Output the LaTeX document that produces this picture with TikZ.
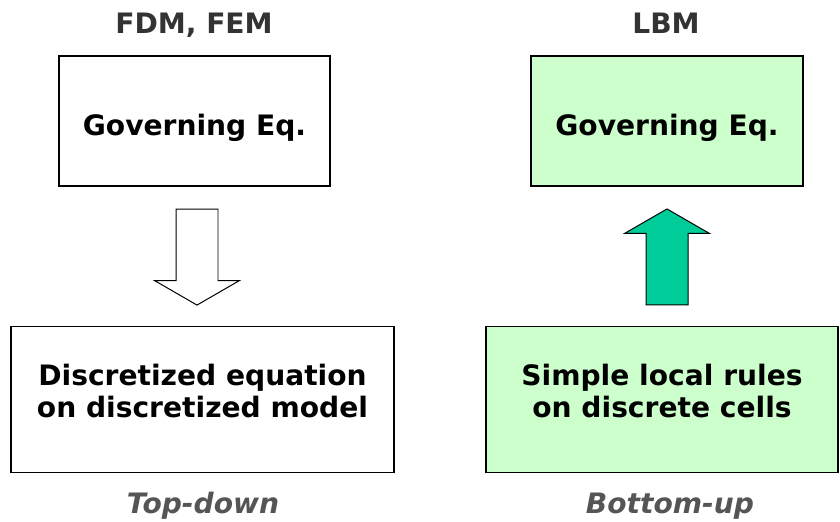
\documentclass[tikz,border=0pt]{standalone}
\usepackage{fontspec}
\setmainfont{DejaVu Sans}
\usepackage{tikz}
\usetikzlibrary{shapes.arrows, positioning, calc}
\definecolor{cellgreen}{HTML}{CCFFCC}
\definecolor{flowgreen}{HTML}{00CC99}
\definecolor{titlegray}{HTML}{333333}
\definecolor{notegray}{HTML}{555555}

\begin{document}
\begin{tikzpicture}[x=0.03cm, y=-0.03cm,
  model/.style={rectangle, draw, line width=1.1pt, align=center, inner sep=0pt, font=\fontsize{24}{28}\selectfont\bfseries},
  topmodel/.style={model, minimum height=3.9cm, text height=24pt, text depth=0pt},
  lowmodel/.style={model, minimum height=4.38cm, text depth=15pt},
  method/.style={anchor=base, font=\fontsize{24}{28}\selectfont\bfseries, text=titlegray},
  approach/.style={anchor=base, font=\fontsize{24}{28}\selectfont\bfseries\itshape, text=notegray},
  flow/.style={single arrow, draw, line width=0.85pt, inner sep=0.615cm, minimum height=2.88cm, single arrow head extend=0.645cm, single arrow tip angle=120, single arrow head indent=0pt}]

\useasboundingbox (0,0) rectangle (840,521);

% Methods

\node [method] (fdmtitle) at (194,33) {FDM, FEM};
\node [method] (lbmtitle) at (666,33) {LBM};

% Models

\node [topmodel, minimum width=8.13cm] (fdmgov) at (194.5,121) {Governing Eq.};
\node [lowmodel, minimum width=11.49cm] (fdmdisc) at (202.5,399.5)
{Discretized equation\\on discretized model};

\node [topmodel, minimum width=8.16cm, fill=cellgreen] (lbmgov) at (667,121) {Governing Eq.};
\node [lowmodel, minimum width=10.56cm, fill=cellgreen] (lbmrules) at (662,399.5)
{Simple local rules\\on discrete cells};

% Flows

\node [flow, shape border rotate=270, fill=white] (topdownflow) at (197,251) {};
\node [flow, shape border rotate=90, fill=flowgreen] (bottomupflow) at (667,263) {};

\node [approach] (topdown) at (203,513) {Top-down};
\node [approach] (bottomup) at (670,513) {Bottom-up};

\end{tikzpicture}
\end{document}
